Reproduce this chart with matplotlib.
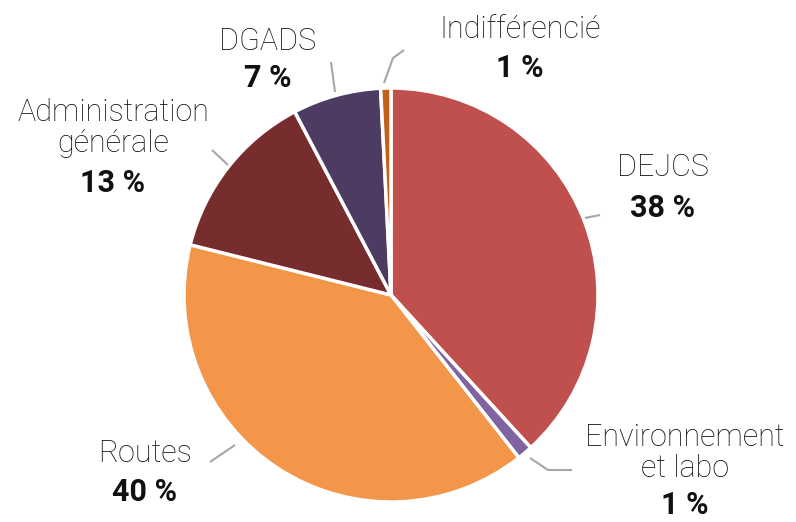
import matplotlib
matplotlib.use("Agg")
import matplotlib.pyplot as plt

categories = ["DEJCS", "Environnement\net labo", "Routes", "Administration\ngénérale", "DGADS", "Indifférencié"]
values = [38.2, 1.2, 39.5, 13.4, 6.9, 0.8]
pct_labels = ["38 %", "1 %", "40 %", "13 %", "7 %", "1 %"]
colors = ["#C0504D", "#8064A2", "#F4964A", "#772C2E", "#4E3B62", "#C0601A"]

W, H = 796, 522
fig = plt.figure(figsize=(W / 100, H / 100), dpi=100)
ax = fig.add_axes([0, 0, 1, 1])

cx, cy, r = 391, H - 295, 207
ax.pie(values, colors=colors, startangle=90, counterclock=False, center=(cx, cy), radius=r,
       wedgeprops=dict(edgecolor="white", linewidth=2.5), frame=True)
ax.set_xlim(0, W)
ax.set_ylim(0, H)
ax.set_aspect("equal")
ax.axis("off")

font = "Roboto"
label_pos = [
    (663, 168, 208),
    (685, 453, 505),
    (145, 453, 492),
    (113, 128, 183),
    (268, 42, 78),
    (520, 30, 68),
]
for name, pct, (x, yn, yp) in zip(categories, pct_labels, label_pos):
    ax.text(x, H - yn, name, ha="center", va="center", fontsize=22, family=font,
            fontweight="light", color="#111111", linespacing=1.05)
    ax.text(x, H - yp, pct, ha="center", va="center", fontsize=22, family=font,
            fontweight="bold", color="#111111")

leaders = [
    [(585, 218), (600, 215)],
    [(530, 458), (548, 470), (572, 470)],
    [(210, 462), (235, 445)],
    [(212, 150), (228, 165)],
    [(331, 62), (335, 92)],
    [(404, 50), (393, 58), (384, 83)],
]
for pts in leaders:
    xs = [p[0] for p in pts]
    ys = [H - p[1] for p in pts]
    ax.plot(xs, ys, color="#A6A6A6", linewidth=1.5, solid_capstyle="butt")

fig.savefig("out.png", dpi=100, facecolor="white")
